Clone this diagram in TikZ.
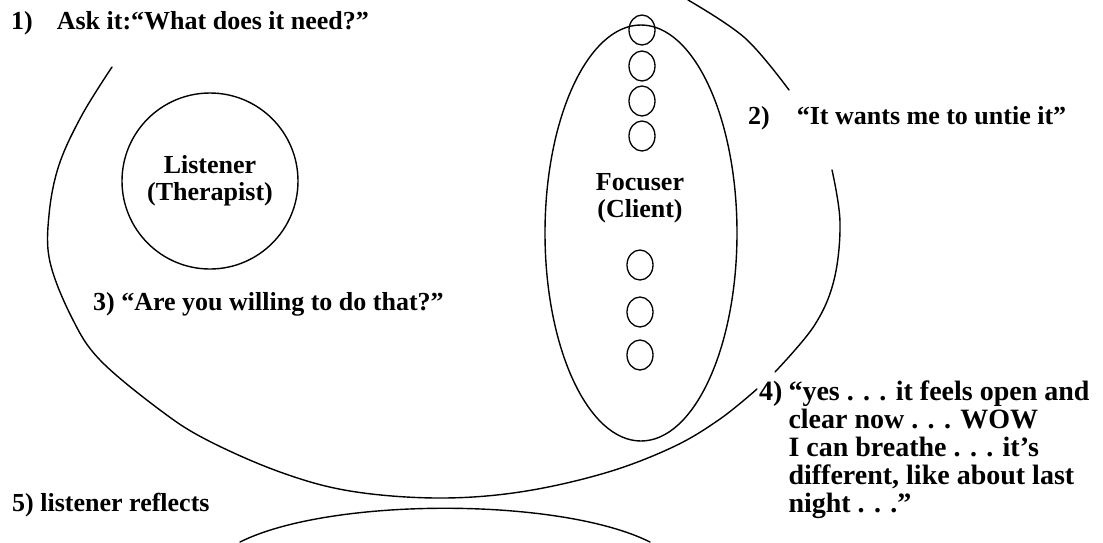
\documentclass[tikz,border=0pt]{standalone}
\usepackage{fontspec}
\setmainfont{Liberation Serif}
\usepackage{tikz}
\usetikzlibrary{shapes.geometric, positioning}

\begin{document}
\begin{tikzpicture}[
    x=1pt, y=-1pt,
    every node/.style={font=\fontsize{26}{27}\selectfont\bfseries},
    txt/.style={anchor=base west, inner sep=0pt},
    curve/.style={line width=1.4pt, line cap=round},
    ring/.style={draw, line width=1.4pt, inner sep=0pt},
    knot/.style={ellipse, draw, line width=1.3pt, minimum width=26pt, minimum height=30pt, inner sep=0pt},
]
\useasboundingbox (0,0) rectangle (1103,542);

% the big open loop round both people
\draw[curve] plot[smooth, tension=0.6] coordinates {(112,67) (82,115) (59,165) (49,215) (50,262) (72,318) (100,360) (160,410) (207,440) (280,472) (350,491) (437,498) (520,492) (605,473) (673,447) (720,419) (757,389)};
\draw[curve] plot[smooth, tension=0.6] coordinates {(775,372) (814,326) (834,280) (840,222) (832,170)};
\draw[curve] plot[smooth, tension=0.6] coordinates {(688,0) (745,38) (789,90)};
\draw[curve] (240,542) .. controls (330,497) and (560,497) .. (650,542);

\node[ring, circle, minimum size=176pt, align=center] (listener) at (210,181) {Listener\\(Therapist)};

\node[ring, ellipse, minimum width=192pt, minimum height=416pt] (focuser) at (641,233) {};
\node[align=center] (client) at (640,198) {Focuser\\(Client)};

\foreach \y [count=\i] in {30,66,101,136}
  \node[knot] (knot\i) at (642,\y) {};
\foreach \y [count=\i from 5] in {265,312,355}
  \node[knot] (knot\i) at (640,\y) {};

\node[txt] (ask) at (11,29) {1)\hspace{24pt}Ask it:“What does it need?”};
\node[txt] (wants) at (748,124) {2)\hspace{27pt}“It wants me to untie it”};
\node[txt] (willing) at (93,310) {3) “Are you willing to do that?”};
\node[txt, font=\fontsize{28}{28}\selectfont\bfseries] (open) at (759,400) {\begin{tabular}[t]{@{}l@{\hspace{6pt}}l@{}}4)&“yes . . . it feels open and\\
&clear now . . . WOW\\
&I can breathe . . . it’s\\
&different, like about last\\
&night . . .”\end{tabular}};
\node[txt] (reflects) at (12,511) {5) listener reflects};
\end{tikzpicture}
\end{document}
